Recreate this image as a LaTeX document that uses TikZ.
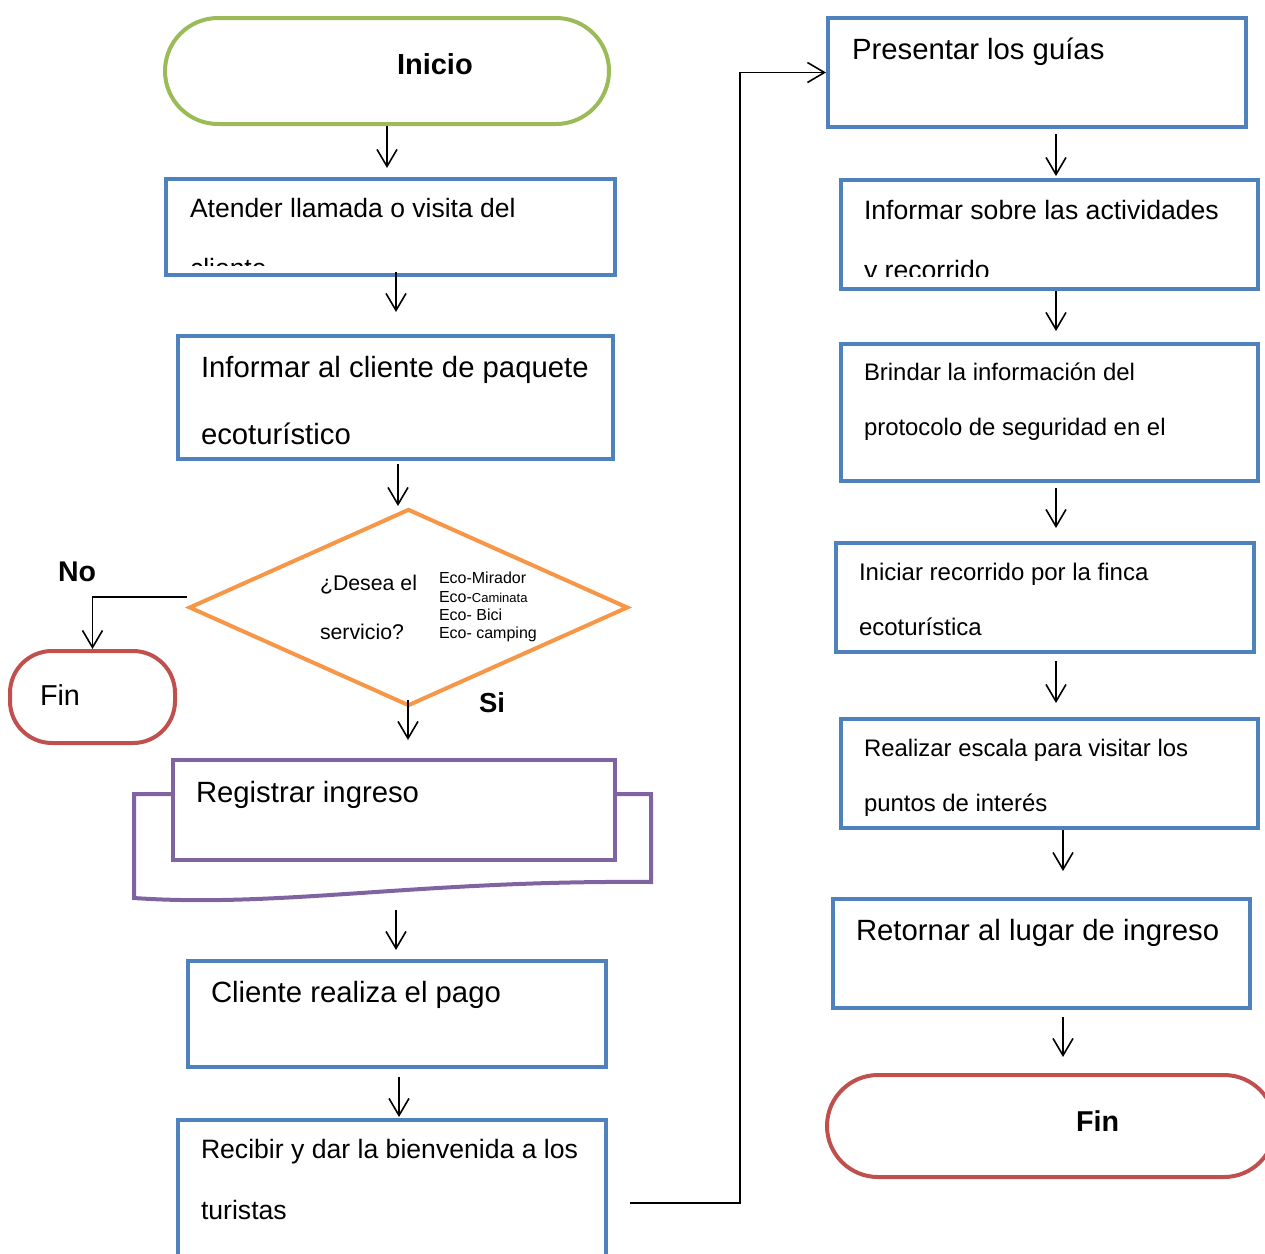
\documentclass[tikz,border=0pt]{standalone}
\usepackage{fontspec}
\setmainfont{Liberation Sans}
\usetikzlibrary{arrows.meta,shapes.geometric,calc}
\definecolor{cblue}{HTML}{4F81BD}
\definecolor{cgreen}{HTML}{9BBB59}
\definecolor{corange}{HTML}{F79646}
\definecolor{cred}{HTML}{C0504D}
\definecolor{cpurple}{HTML}{8064A2}
\newcommand\fsz[1]{\fontsize{#1pt}{#1pt}\selectfont}
\begin{document}
\begin{tikzpicture}[x=1pt,y=-1pt,
  box/.style={draw=cblue,line width=4pt,inner sep=0pt,rectangle},
  term/.style={line width=4pt,inner sep=0pt,rectangle},
  arr/.style={line width=1.6pt,-{Straight Barb[length=17pt,width=20pt]}},
  lbl/.style={anchor=base west,inner sep=0pt,outer sep=0pt}]
\useasboundingbox (0,0) rectangle (1265,1253);

% ---------- shapes, left column ----------
\node[term,draw=cgreen,rounded corners=53pt,minimum width=444pt,minimum height=106pt] (ini) at (387,71) {};
\node[box,minimum width=449pt,minimum height=96pt] (b1) at (390.5,227) {};
\node[box,minimum width=435pt,minimum height=123pt] (b2) at (395.5,397.5) {};
\node[diamond,draw=corange,line width=4pt,inner sep=0pt,minimum width=439pt,minimum height=197pt] (dia) at (408.5,607.5) {};
\node[term,draw=cred,rounded corners=42pt,minimum width=165pt,minimum height=92pt] (fin1) at (92.5,697) {};
\draw[cpurple,line width=4pt,fill=white] (134,794) -- (651,794) -- (651,882)
  .. controls (420,880) and (280,908) .. (134,898) -- cycle;
\node[rectangle,draw=cpurple,fill=white,line width=4pt,inner sep=0pt,minimum width=442pt,minimum height=100pt] (reg) at (394,810) {};
\node[box,minimum width=418pt,minimum height=106pt] (b3) at (397,1014) {};
\node[box,minimum width=428pt,minimum height=142pt] (b4) at (392,1191) {};

% ---------- shapes, right column ----------
\node[box,minimum width=418pt,minimum height=109pt] (r1) at (1037,72.5) {};
\node[box,minimum width=417pt,minimum height=109pt] (r2) at (1049.5,234.5) {};
\node[box,minimum width=417pt,minimum height=137pt] (r3) at (1049.5,412.5) {};
\node[box,minimum width=418pt,minimum height=109pt] (r4) at (1045,597.5) {};
\node[box,minimum width=417pt,minimum height=109pt] (r5) at (1049.5,773.5) {};
\node[box,minimum width=417pt,minimum height=109pt] (r6) at (1041.5,953.5) {};
\node[term,draw=cred,rounded corners=51pt,minimum width=448pt,minimum height=102pt] (fin2) at (1051,1126) {};

% ---------- texts ----------
\node[lbl] (tini) at (397,74) {\fsz{29}\bfseries Inicio};
\begin{scope}
  \clip (166,179) rectangle (615,265);
  \node[lbl] (t1a) at (190,217) {\fsz{26.5}Atender llamada o visita del};
  \node[lbl] (t1b) at (190,277) {\fsz{26.5}cliente};
\end{scope}
\node[lbl] (t2a) at (201,377.5) {\fsz{29.3}Informar al cliente de paquete};
\node[lbl] (t2b) at (201,444.5) {\fsz{29.3}ecoturístico};
\node[lbl] (td1) at (320,590) {\fsz{21.3}¿Desea el};
\node[lbl] (td2) at (320,639) {\fsz{21.3}servicio?};
\node[lbl] (te1) at (439,583) {\fsz{16}Eco-Mirador};
\node[lbl] (te2) at (439,602) {\fsz{16}Eco-{\fsz{13}Caminata}};
\node[lbl] (te3) at (439,620) {\fsz{16}Eco- Bici};
\node[lbl] (te4) at (439,638) {\fsz{16}Eco- camping};
\node[lbl] (tno) at (58,581) {\fsz{28.5}\bfseries No};
\node[lbl] (tsi) at (479,712) {\fsz{27.5}\bfseries Si};
\node[lbl] (tfin1) at (40,705) {\fsz{28.8}Fin};
\node[lbl] (treg) at (196,802) {\fsz{29.3}Registrar ingreso};
\node[lbl] (t3) at (211,1002.5) {\fsz{29.3}Cliente realiza el pago};
\node[lbl] (t4a) at (201,1158) {\fsz{26.6}Recibir y dar la bienvenida a los};
\node[lbl] (t4b) at (201,1219) {\fsz{26.6}turistas};
\node[lbl] (tr1) at (852,59.5) {\fsz{29.3}Presentar los guías};
\begin{scope}
  \clip (841,180) rectangle (1258,276);
  \node[lbl] (tr2a) at (864,219) {\fsz{26.6}Informar sobre las actividades};
  \node[lbl] (tr2b) at (864,279) {\fsz{26.6}y recorrido};
\end{scope}
\node[lbl] (tr3a) at (864,380) {\fsz{23.9}Brindar la información del};
\node[lbl] (tr3b) at (864,435) {\fsz{23.9}protocolo de seguridad en el};
\node[lbl] (tr4a) at (859,580) {\fsz{24}Iniciar recorrido por la finca};
\node[lbl] (tr4b) at (859,635) {\fsz{24}ecoturística};
\node[lbl] (tr5a) at (864,756) {\fsz{23.9}Realizar escala para visitar los};
\node[lbl] (tr5b) at (864,811) {\fsz{23.9}puntos de interés};
\node[lbl] (tr6) at (856,940.5) {\fsz{29.3}Retornar al lugar de ingreso};
\node[lbl] (tfin2) at (1076,1131) {\fsz{28.7}\bfseries Fin};

% ---------- connectors ----------
\draw[arr] ($(ini.south)+(0,0)$) -- ($(ini.south |- b1.north)+(0,-9)$);
\draw[arr] ($(b1.south)+(5.5,-5)$) -- ($(b1.south |- b2.north)+(5.5,-22)$);
\draw[arr] ($(b2.south)+(2.5,3)$) -- ($(b2.south |- dia.north)+(2.5,-1)$);
\draw[arr] ($(dia.west)+(0,-10.5)$) -| (fin1.north);
\draw[arr] ($(dia.south)+(-0.5,-8)$) -- ($(dia.south |- reg.north)+(-0.5,-18)$);
\draw[arr] ($(reg.south)+(2,48)$) -- ($(reg.south |- b3.north)+(2,-9)$);
\draw[arr] ($(b3.south)+(2,8)$) -- ($(b3.south |- b4.north)+(2,-1)$);
\draw[arr] ($(b4.east)+(22,12)$) -- ++(110,0) |- (r1.west);
\draw[arr] ($(r1.south)+(19,5)$) -- ($(r1.south |- r2.north)+(19,-2)$);
\draw[arr] ($(r2.south)+(6.5,0)$) -- ($(r2.south |- r3.north)+(6.5,-11)$);
\draw[arr] ($(r3.south)+(6.5,5)$) -- ($(r3.south |- r4.north)+(6.5,-13)$);
\draw[arr] ($(r4.south)+(11,7)$) -- ($(r4.south |- r5.north)+(11,-14)$);
\draw[arr] ($(r5.south)+(13.5,0)$) -- ($(r5.south |- r6.north)+(13.5,-26)$);
\draw[arr] ($(r6.south)+(21.5,7)$) -- ($(r6.south |- fin2.north)+(21.5,-16)$);
\end{tikzpicture}
\end{document}
